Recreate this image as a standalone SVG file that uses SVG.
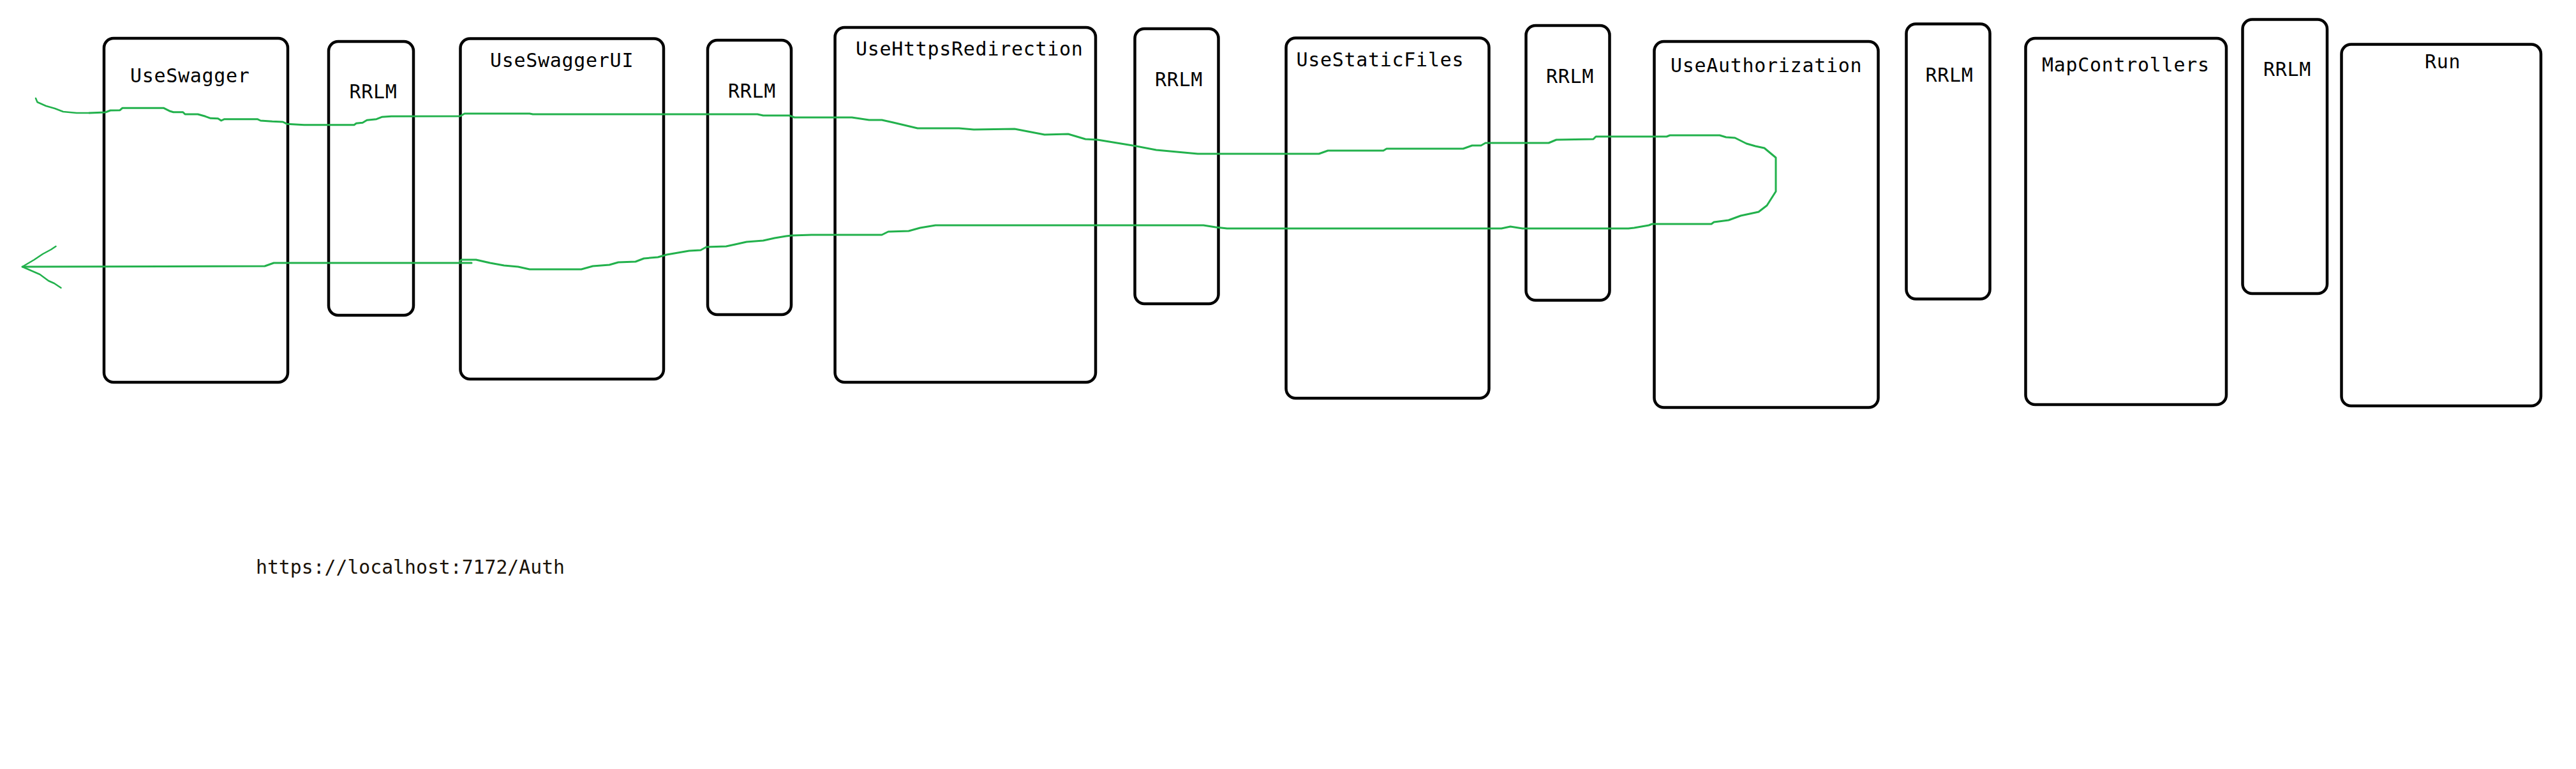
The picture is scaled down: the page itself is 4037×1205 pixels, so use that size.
<svg xmlns="http://www.w3.org/2000/svg" width="4037" height="1205" viewBox="0 0 4037 1205">
<style>
.box{fill:none;stroke:#000;stroke-width:4.5}
.lbl{font-family:"DejaVu Sans Mono","Liberation Mono",monospace;font-size:30px;letter-spacing:0.7px;fill:#000}
.url{font-family:"DejaVu Sans Mono","Liberation Mono",monospace;font-size:29.5px;fill:#1a1208}
.flow{fill:none;stroke:#22b14c;stroke-width:3;stroke-linejoin:round;stroke-linecap:round}
.thin{fill:none;stroke:#22b14c;stroke-width:2.5;stroke-linejoin:round;stroke-linecap:round}
</style>
<rect width="4037" height="1205" fill="#fff"/>
<g id="n-useswagger"><rect class="box" x="163" y="60" width="288" height="539" rx="15"/><text class="lbl" x="204" y="129">UseSwagger</text></g>
<g id="n-rrlm1"><rect class="box" x="515" y="65" width="133" height="429" rx="15"/><text class="lbl" x="547.5" y="154">RRLM</text></g>
<g id="n-useswaggerui"><rect class="box" x="721.5" y="60.5" width="318.5" height="533.5" rx="15"/><text class="lbl" x="768" y="104.5">UseSwaggerUI</text></g>
<g id="n-rrlm2"><rect class="box" x="1109" y="63" width="131" height="430" rx="15"/><text class="lbl" x="1141" y="152.6">RRLM</text></g>
<g id="n-usehttpsredirection"><rect class="box" x="1308.6" y="43" width="408.4" height="556" rx="15"/><text class="lbl" x="1341" y="87">UseHttpsRedirection</text></g>
<g id="n-rrlm3"><rect class="box" x="1778.5" y="45" width="131" height="431" rx="15"/><text class="lbl" x="1810" y="134.7">RRLM</text></g>
<g id="n-usestaticfiles"><rect class="box" x="2015.5" y="59.5" width="318" height="564.5" rx="15"/><text class="lbl" x="2031.5" y="103.6">UseStaticFiles</text></g>
<g id="n-rrlm4"><rect class="box" x="2391.5" y="40" width="131" height="430.5" rx="15"/><text class="lbl" x="2423" y="129.8">RRLM</text></g>
<g id="n-useauthorization"><rect class="box" x="2592.5" y="65" width="351" height="573.5" rx="15"/><text class="lbl" x="2618" y="112.8">UseAuthorization</text></g>
<g id="n-rrlm5"><rect class="box" x="2987.5" y="37.5" width="131" height="431" rx="15"/><text class="lbl" x="3017.5" y="127.7">RRLM</text></g>
<g id="n-mapcontrollers"><rect class="box" x="3174.5" y="60" width="314.5" height="574" rx="15"/><text class="lbl" x="3200" y="112">MapControllers</text></g>
<g id="n-rrlm6"><rect class="box" x="3514.5" y="30.5" width="132.5" height="429.5" rx="15"/><text class="lbl" x="3547" y="119.3">RRLM</text></g>
<g id="n-run"><rect class="box" x="3669.5" y="69.5" width="312.5" height="566.5" rx="15"/><text class="lbl" x="3800" y="107.3">Run</text></g>
<g id="n-url"><text class="url" x="401" y="899" textLength="484" lengthAdjust="spacingAndGlyphs">https://localhost:7172/Auth</text></g>
<g id="connectors">
<path class="thin" d="M56,154 L58.5,160 L72,166 L86,170 L99,175 L120,177 L140,177"/>
<path class="flow" d="M140,177 L165,176 L173,173 L188,172.7 L191.7,169.3 L256.7,169.3 L266.7,174.3 L271.7,175.7 L286.7,175.7 L290,179 L310,179 L321.7,182.3 L330,185.3 L341.7,185.7 L346.7,189 L351.7,186.7 L403.3,186.7 L408.3,189 L426.7,190.3 L443.3,191 L450,194.3 L476.7,195.7 L555,195.7 L558.3,193.3 L568.3,192.3 L575,188.3 L590,186.7 L598.3,183.3 L613.3,182.3 L721,182 L728,178 L830,178 L835,179 L1187,179 L1196,181 L1237,181 L1245,184 L1335,184 L1362,188 L1382,188 L1400,192 L1438,201 L1503,201 L1526,203 L1590,202 L1637,211 L1674,210 L1701,218 L1720,219 L1775,228 L1812,235 L1877,241 L2067,241 L2081,236 L2168,236 L2173,233 L2293,233 L2307,228 L2321,228 L2328,224 L2427,224 L2439,219 L2497,218 L2501,214 L2612,214 L2617,212 L2695,212 L2705,215 L2719,216 L2737,225 L2751,229 L2765,232 L2783,247 L2783,300 L2769,322 L2756,332 L2728,338 L2709,345 L2686,348 L2682,351 L2589,351 L2584,353 L2561,357 L2552,358 L2386,358 L2367,355 L2353,358 L1923,358 L1905,356 L1886,353 L1466,353 L1442,357 L1424,362 L1392,363 L1382,368 L1272,368 L1241,369 L1232,370 L1214,373 L1196,377 L1170,379 L1152,383 L1138,386 L1107,387 L1098,392 L1080,393 L1045,399 L1031,403 L1009,405 L996,410 L969,411 L955,415 L929,417 L911,422 L830,422 L812,418 L790,416 L768,412 L746,407 L723,407 L721,409"/>
<path class="flow" d="M739,412 L429,412 L415,417 L35,418"/>
<path class="thin" d="M87.5,386 L80,391 L67,398 L53.6,407 L35,418 L62.5,430 L76,440 L85,444 L95.5,451"/>
</g>
</svg>
